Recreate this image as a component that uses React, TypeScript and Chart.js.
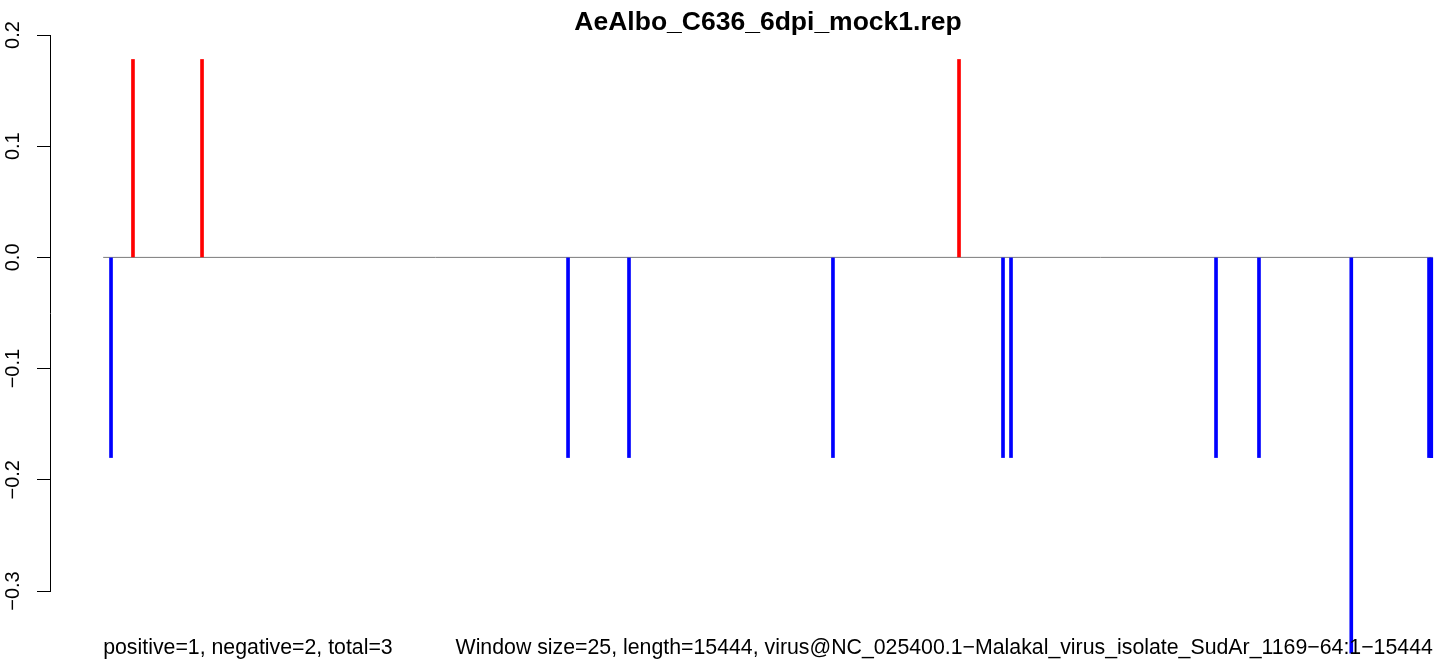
import React, { useEffect, useRef } from "react";
import { Chart, registerables } from "chart.js";

Chart.register(...registerables);

// ---- data ----
const TITLE = "AeAlbo_C636_6dpi_mock1.rep";
const FOOT_LEFT = "positive=1, negative=2, total=3";
const FOOT_RIGHT =
  "Window size=25, length=15444, virus@NC_025400.1\u2212Malakal_virus_isolate_SudAr_1169\u221264:1\u221215444";

const GENOME_START = 1;
const GENOME_END = 15444;

const positivePositions = [347, 1149, 9941];
const positiveValues = [0.178, 0.178, 0.178];

const negativePositions = [92, 5400, 6108, 8477, 10452, 10545, 12926, 13425, 14497, 15400, 15426];
const negativeValues = [-0.18, -0.18, -0.18, -0.18, -0.18, -0.18, -0.18, -0.18, -0.356, -0.18, -0.18];

const Y_MIN = -0.3;
const Y_MAX = 0.2;
const Y_STEP = 0.1;

// R-style 4% axis expansion
const X_PAD = (GENOME_END - GENOME_START) * 0.04;
const X_MIN = GENOME_START - X_PAD;
const X_MAX = GENOME_END + X_PAD;

const FONT = '"Liberation Sans", Arial, Helvetica, sans-serif';

const CANVAS_W = 1494;
const CANVAS_H = 667;

const textPlugin = {
  id: "rtext",
  afterDraw(chart: any) {
    const { ctx, chartArea, scales } = chart;
    const x = scales.x;
    const y = scales.y;
    ctx.save();
    ctx.fillStyle = "#000";
    // title
    ctx.font = `bold 26.5px ${FONT}`;
    ctx.textAlign = "center";
    ctx.textBaseline = "alphabetic";
    ctx.fillText(TITLE, (chartArea.left + chartArea.right) / 2, 30);
    // footer
    ctx.font = `21.3px ${FONT}`;
    ctx.textAlign = "left";
    ctx.fillText(FOOT_LEFT, x.getPixelForValue(GENOME_START), 654);
    ctx.textAlign = "right";
    ctx.fillText(FOOT_RIGHT, x.getPixelForValue(GENOME_END), 654);
    // y tick labels (rotated, R style)
    ctx.font = `20px ${FONT}`;
    ctx.textAlign = "center";
    for (const t of y.ticks) {
      const py = y.getPixelForValue(t.value);
      const label = (Math.round(t.value * 10) / 10).toFixed(1).replace("-", "\u2212");
      ctx.save();
      ctx.translate(19, py);
      ctx.rotate(-Math.PI / 2);
      ctx.fillText(label, 0, 0);
      ctx.restore();
    }
    ctx.restore();
  },
};

export default function App() {
  const ref = useRef<HTMLCanvasElement | null>(null);

  useEffect(() => {
    if (!ref.current) return;
    const chart = new Chart(ref.current, {
      type: "bar",
      data: {
        datasets: [
          {
            type: "line",
            data: [
              { x: GENOME_START, y: 0 },
              { x: GENOME_END, y: 0 },
            ],
            borderColor: "#7a7a7a",
            borderWidth: 1,
            pointRadius: 0,
            order: 3,
          } as any,
          {
            data: positivePositions.map((p, i) => ({ x: p, y: positiveValues[i] })),
            backgroundColor: "#ff0000",
            borderWidth: 0,
            barThickness: 3,
            grouped: false,
            clip: false,
            order: 1,
          } as any,
          {
            data: negativePositions.map((p, i) => ({ x: p, y: negativeValues[i] })),
            backgroundColor: "#0000ff",
            borderWidth: 0,
            barThickness: 3,
            grouped: false,
            clip: false,
            order: 2,
          } as any,
        ],
      },
      options: {
        animation: false,
        responsive: false,
        maintainAspectRatio: false,
        devicePixelRatio: 1,
        layout: { padding: { left: 0, right: 8, top: 35, bottom: 76 } },
        plugins: {
          legend: { display: false },
          title: { display: false },
          tooltip: { enabled: false },
        },
        scales: {
          x: {
            type: "linear",
            min: X_MIN,
            max: X_MAX,
            offset: false,
            display: false,
          },
          y: {
            position: "left",
            min: Y_MIN,
            max: Y_MAX,
            ticks: { stepSize: Y_STEP, display: false },
            grid: {
              drawOnChartArea: false,
              drawTicks: true,
              tickLength: 13,
              color: "#000",
              lineWidth: 1,
            },
            border: { display: true, color: "#000", width: 1 },
            afterFit: (s: any) => {
              s.width = 50;
            },
          },
        },
      } as any,
      plugins: [textPlugin],
    });
    return () => chart.destroy();
  }, []);

  return (
    <div
      style={{
        position: "fixed",
        left: 0,
        top: 0,
        width: 1444,
        height: 667,
        overflow: "hidden",
        background: "#fff",
      }}
    >
      <canvas
        ref={ref}
        width={CANVAS_W}
        height={CANVAS_H}
        style={{ width: CANVAS_W, height: CANVAS_H, display: "block" }}
      />
    </div>
  );
}
